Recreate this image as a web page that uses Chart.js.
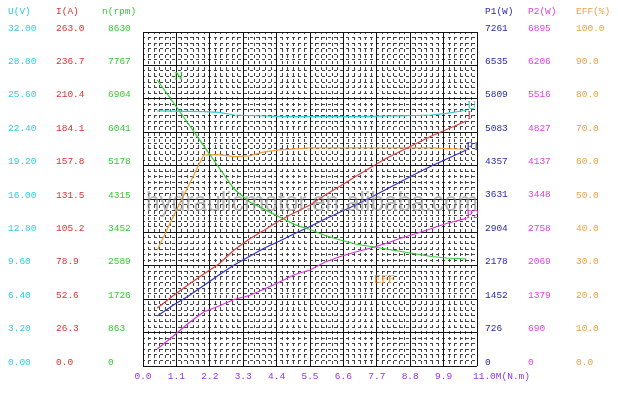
<!DOCTYPE html>
<html>
<head>
<meta charset="utf-8">
<title>Motor performance curves</title>
<script src="https://cdn.jsdelivr.net/npm/chart.js@4.4.0/dist/chart.umd.min.js"></script>
<style>
    html, body { margin: 0; padding: 0; background: #fff; }
</style>
</head>
<body>
<canvas id="motorChart" width="618" height="399"></canvas>
<script>
var torque  = [0.47, 1.0, 1.5, 2.0, 2.5, 3.0, 3.5, 4.0, 4.5, 5.0, 5.5, 6.0, 6.5, 7.0, 7.5, 8.0, 8.5, 9.0, 9.5, 10.0, 10.65];

var voltage = [24.45, 24.42, 24.40, 24.38, 24.30, 24.05, 24.00, 23.95, 23.92, 23.90, 23.90, 23.90, 23.90, 23.90, 23.92, 23.95, 23.97, 24.00, 24.05, 24.20, 24.50];
var current = [45.7, 55.5, 64.2, 72.4, 80.3, 91.3, 100.0, 107.1, 114.6, 120.9, 126.8, 134.6, 141.7, 149.2, 156.3, 163.4, 169.3, 175.2, 181.1, 186.2, 192.9];
var speed   = [7390, 6809, 6253, 5690, 5129, 4574, 4243, 4047, 3850, 3654, 3527, 3372, 3256, 3152, 3088, 3023, 2959, 2894, 2830, 2791, 2765];
var powerIn  = [1087, 1326, 1522, 1750, 1978, 2196, 2381, 2565, 2718, 2881, 3033, 3196, 3348, 3500, 3663, 3837, 4011, 4185, 4348, 4500, 4696];
var powerOut = [351, 619, 888, 1115, 1238, 1373, 1455, 1589, 1734, 1889, 1981, 2147, 2260, 2353, 2436, 2528, 2642, 2735, 2838, 2941, 3049];
var efficiency = [34.7, 44.8, 54.0, 63.2, 63.3, 62.7, 62.9, 64.1, 64.7, 65.0, 65.3, 65.3, 65.3, 65.3, 65.3, 65.3, 65.3, 65.3, 65.3, 65.1, 64.9];

// tick labels
var xTicks   = ['0.0', '1.1', '2.2', '3.3', '4.4', '5.5', '6.6', '7.7', '8.8', '9.9', '11.0'];
var uTicks   = ['0.00', '3.20', '6.40', '9.60', '12.80', '16.00', '19.20', '22.40', '25.60', '28.80', '32.00'];
var iTicks   = ['0.0', '26.3', '52.6', '78.9', '105.2', '131.5', '157.8', '184.1', '210.4', '236.7', '263.0'];
var nTicks   = ['0', '863', '1726', '2589', '3452', '4315', '5178', '6041', '6904', '7767', '8630'];
var p1Ticks  = ['0', '726', '1452', '2178', '2904', '3631', '4357', '5083', '5809', '6535', '7261'];
var p2Ticks  = ['0', '690', '1379', '2069', '2758', '3448', '4137', '4827', '5516', '6206', '6895'];
var effTicks = ['0.0', '10.0', '20.0', '30.0', '40.0', '50.0', '60.0', '70.0', '80.0', '90.0', '100.0'];

var axisIds     = ['yU', 'yI', 'yN', 'yP1', 'yP2', 'yE'];
var axisHeaders = ['U(V)', 'I(A)', 'n(rpm)', 'P1(W)', 'P2(W)', 'EFF(%)'];
var axisColors  = ['#33ccdd', '#dd3333', '#33cc33', '#2b2bb0', '#e040e0', '#f0a040'];
var lineColors  = ['#33cccc', '#e04040', '#33cc33', '#3333cc', '#dd33dd', '#f0a040'];

var tickFont = { family: '"Liberation Mono", "DejaVu Sans Mono", monospace', size: 9.5 };

function points(values) {
    return torque.map(function (t, i) { return { x: t, y: values[i] }; });
}

function yAxis(labels, color, side, weight, width, pad, drawGrid) {
    return {
        type: 'linear',
        position: side,
        weight: weight,
        min: 0,
        max: parseFloat(labels[labels.length - 1]),
        afterBuildTicks: function (scale) {
            scale.ticks = labels.map(function (l) { return { value: parseFloat(l) }; });
        },
        afterFit: function (scale) { scale.width = width; },
        grid: { display: drawGrid, color: '#111', lineWidth: 1, drawTicks: false },
        border: { display: false },
        ticks: {
            font: tickFont,
            color: color,
            padding: pad,
            crossAlign: side === 'left' ? 'far' : 'near',
            labelOffset: -4,
            autoSkip: false,
            callback: function (v, i) { return labels[i]; }
        }
    };
}

function minorAxis(side) {
    return {
        type: 'linear',
        position: side,
        weight: 0,
        min: 0,
        max: 60,
        afterFit: function (scale) {
            if (side === 'left') scale.width = 0; else scale.height = 0;
        },
        grid: { color: '#444', lineWidth: 1, drawTicks: false },
        border: { display: false, dash: [3, 3], dashOffset: 1 },
        ticks: { display: false, stepSize: 1, maxTicksLimit: 100 }
    };
}

var textPlugin = {
    id: 'motorText',
    afterDraw: function (chart) {
        var ctx = chart.ctx;
        var s = chart.scales;
        var area = chart.chartArea;
        ctx.save();

        // watermark
        ctx.font = '28px "Liberation Sans", Arial, sans-serif';
        ctx.fillStyle = 'rgba(140,140,140,0.6)';
        ctx.textAlign = 'left';
        ctx.textBaseline = 'alphabetic';
        var mark = 'hydraulicmotor.en.alibaba.com';
        var w = ctx.measureText(mark).width;
        ctx.save();
        ctx.translate(area.left + 3, area.top + 179);
        ctx.scale((area.right - area.left - 2) / w, 1);
        ctx.fillText(mark, 0, 0);
        ctx.restore();

        // column headers
        ctx.font = tickFont.size + 'px ' + tickFont.family;
        ctx.textBaseline = 'middle';
        axisIds.forEach(function (id, i) {
            var sc = s[id];
            var x = sc.position === 'left' ? sc.left : sc.left + sc.options.ticks.padding;
            if (id === 'yN') x -= 6;
            ctx.fillStyle = axisColors[i];
            ctx.fillText(axisHeaders[i], x, area.top - 21);
        });

        // x unit after last tick
        ctx.fillStyle = '#9933ee';
        ctx.fillText('11.0M(N.m)', s.x.getPixelForValue(11) - 4, area.bottom + 10);

        // curve names
        ctx.font = '12px "Liberation Serif", "DejaVu Serif", serif';
        var last = torque.length - 1;
        var tags = [
            { text: 'N',   axis: 'yN',  x: torque[0],    y: speed[0],        dx: 17, dy: -3, color: '#33cc33' },
            { text: 'U',   axis: 'yU',  x: torque[last], y: voltage[last],   dx: 1,  dy: -4, color: '#33cccc' },
            { text: 'I',   axis: 'yI',  x: torque[last], y: current[last],   dx: 1,  dy: -5, color: '#e04040' },
            { text: 'P1',  axis: 'yP1', x: torque[last], y: powerIn[last],   dx: 0,  dy: -3, color: '#3333cc' },
            { text: 'P2',  axis: 'yP2', x: torque[last], y: powerOut[last],  dx: 0,  dy: -3, color: '#dd33dd' },
            { text: 'EFF', axis: 'yE',  x: 7.6,          y: 25.7,            dx: 0,  dy: 0,  color: '#f0a040' }
        ];
        tags.forEach(function (t) {
            ctx.fillStyle = t.color;
            ctx.fillText(t.text, s.x.getPixelForValue(t.x) + t.dx, s[t.axis].getPixelForValue(t.y) + t.dy);
        });
        ctx.restore();
    }
};

function series(label, values, axis, color) {
    return {
        label: label,
        data: points(values),
        xAxisID: 'x',
        yAxisID: axis,
        borderColor: color,
        borderWidth: 1.2,
        pointRadius: 0,
        fill: false,
        tension: 0
    };
}

new Chart(document.getElementById('motorChart'), {
    type: 'line',
    data: {
        datasets: [
            series('U', voltage, 'yU', lineColors[0]),
            series('I', current, 'yI', lineColors[1]),
            series('n', speed, 'yN', lineColors[2]),
            series('P1', powerIn, 'yP1', lineColors[3]),
            series('P2', powerOut, 'yP2', lineColors[4]),
            series('EFF', efficiency, 'yE', lineColors[5])
        ]
    },
    options: {
        responsive: false,
        animation: false,
        layout: { padding: { left: 8, right: 0, top: 32, bottom: 0 } },
        plugins: { legend: { display: false }, tooltip: { enabled: false } },
        scales: {
            xMinor: minorAxis('bottom'),
            yMinor: minorAxis('left'),
            x: {
                type: 'linear',
                position: 'bottom',
                weight: 1,
                min: 0,
                max: 11,
                afterBuildTicks: function (scale) {
                    scale.ticks = xTicks.map(function (l) { return { value: parseFloat(l) }; });
                },
                afterFit: function (scale) { scale.height = 33; },
                grid: { color: '#111', lineWidth: 1, drawTicks: false },
                border: { display: false },
                ticks: {
                    font: tickFont,
                    color: '#9933ee',
                    padding: 5,
                    maxRotation: 0,
                    autoSkip: false,
                    callback: function (v, i) { return i === xTicks.length - 1 ? '' : xTicks[i]; }
                }
            },
            yU: yAxis(uTicks, axisColors[0], 'left', 3, 48, 0, true),
            yI: yAxis(iTicks, axisColors[1], 'left', 2, 52, 0, false),
            yN: yAxis(nTicks, axisColors[2], 'left', 1, 35, 0, false),
            yP1: yAxis(p1Ticks, axisColors[3], 'right', 1, 51, 8, false),
            yP2: yAxis(p2Ticks, axisColors[4], 'right', 2, 48, 0, false),
            yE: yAxis(effTicks, axisColors[5], 'right', 3, 42, 0, false)
        }
    },
    plugins: [textPlugin]
});
</script>
</body>
</html>
